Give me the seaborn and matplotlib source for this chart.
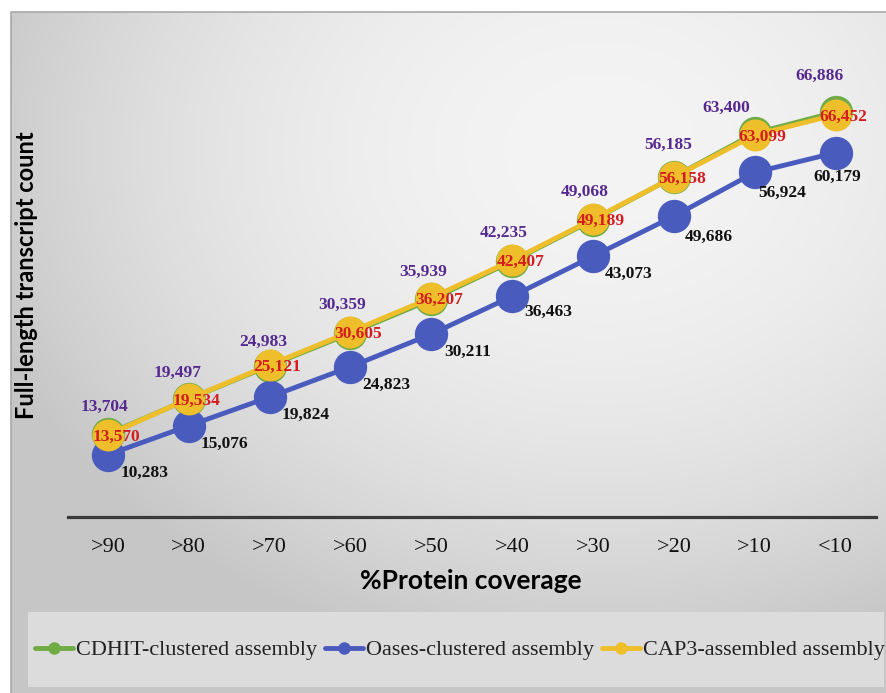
import numpy as np
import pandas as pd
import seaborn as sns
import matplotlib.pyplot as plt
from matplotlib.lines import Line2D
from matplotlib.patches import Rectangle

# Protein coverage bins and full-length transcript counts per assembly
coverage = [">90", ">80", ">70", ">60", ">50", ">40", ">30", ">20", ">10", "<10"]
cdhit = [13704, 19497, 24983, 30359, 35939, 42235, 49068, 56185, 63400, 66886]
oases = [10283, 15076, 19824, 24823, 30211, 36463, 43073, 49686, 56924, 60179]
cap3 = [13570, 19534, 25121, 30605, 36207, 42407, 49189, 56158, 63099, 66452]
series_names = ["CDHIT-clustered assembly", "Oases-clustered assembly",
                "CAP3-assembled assembly"]

GREEN, BLUE, YELLOW = "#6fac46", "#4a5bbe", "#efbf2b"
PURPLE, RED, BLACK = "#55298f", "#d41c1f", "#111111"

sns.set_theme(style="white")
plt.rcParams["font.family"] = ["Liberation Serif", "DejaVu Sans"]

W, H = 887, 693
fig = plt.figure(figsize=(W / 100, H / 100), dpi=100)

# Soft grey radial backdrop with a flat legend panel
bg = fig.add_axes([0, 0, 1, 1], zorder=-10)
yy, xx = np.mgrid[0:H, 0:W]
d2 = ((xx - 600) / 650) ** 2 + ((yy - 150) / 520) ** 2
val = 244 - 46 * np.clip(d2, 0, 1)
val[(xx < 11) | (yy < 12)] = 255
bg.imshow(np.dstack([val / 255] * 3), extent=(0, W, H, 0), aspect="auto",
          interpolation="bilinear")
bg.plot([11, 11, W], [H, 12, 12], color="#a8a8a8", lw=1.2)
bg.add_patch(Rectangle((28, 612), 856, 75, facecolor="#dcdcdc", edgecolor="none"))
bg.set_xlim(0, W)
bg.set_ylim(H, 0)
bg.axis("off")

ax = fig.add_axes([67.5 / W, (H - 517) / H, (876 - 67.5) / W, (517 - 63) / H])
ax.set_facecolor("none")

df = pd.DataFrame({
    "coverage": coverage * 3,
    "count": cdhit + oases + cap3,
    "assembly": [series_names[0]] * 10 + [series_names[1]] * 10 + [series_names[2]] * 10,
})

styles = [(series_names[0], GREEN, 24), (series_names[1], BLUE, 24),
          (series_names[2], YELLOW, 23)]
for name, color, ms in styles:
    n_before = len(ax.lines)
    sns.lineplot(data=df[df["assembly"] == name], x="coverage", y="count",
                 color=color, lw=3.5, marker="o", sort=False, ax=ax, legend=False)
    for ln in ax.lines[n_before:]:
        ln.set_markersize(ms)
        ln.set_markeredgewidth(0)
        ln.set_markerfacecolor(color)

# Value labels
purple_off = [(-3, 27), (-11, 26), (-6, 24), (-8, 28), (-8, 28), (-8, 28),
              (-8, 28), (-6, 32), (-28, 25), (-16, 36)]
black_off = [(37, -18), (36, -18), (36, -18), (36, -18), (36, -18), (36, -16),
             (36, -18), (35, -21), (27, -20), (2, -24)]
label_kw = dict(textcoords="offset pixels", ha="center", va="center",
                fontsize=12.5, fontweight="bold")
for i, v in enumerate(cdhit):
    ax.annotate(f"{v:,}", (i, v), xytext=purple_off[i], color=PURPLE, **label_kw)
for i, v in enumerate(cap3):
    ax.annotate(f"{v:,}", (i, v), xytext=(8, -2), color=RED, **label_kw)
for i, v in enumerate(oases):
    ax.annotate(f"{v:,}", (i, v), xytext=black_off[i], color=BLACK, **label_kw)

ax.set_xlim(-0.5, 9.5)
ax.set_ylim(0, 75000)
ax.set_yticks([])
ax.set_xlabel("")
ax.set_ylabel("")
for s in ["top", "right", "left"]:
    ax.spines[s].set_visible(False)
ax.spines["bottom"].set_color("#3a3a3a")
ax.spines["bottom"].set_linewidth(2.3)
ax.tick_params(axis="x", length=0, pad=15, labelsize=16, labelcolor="#111111")

fig.text(471 / W, 1 - 581 / H, "%Protein coverage", ha="center", va="center",
         fontsize=19, fontweight="bold", family=["Lato", "DejaVu Sans"],
         color="#000000")
fig.text(27 / W, 1 - 275 / H, "Full-length transcript count", ha="center",
         va="center", rotation=90, fontsize=17, fontweight="bold",
         family=["Lato", "DejaVu Sans"], color="#000000")

handles = [Line2D([], [], color=c, lw=3.5, marker="o", ms=9, markeredgewidth=0)
           for _, c, _ in styles]
fig.legend(handles, series_names, loc="center", bbox_to_anchor=(460 / W, 1 - 650 / H),
           ncol=3, frameon=False, fontsize=16, handlelength=1.7,
           handletextpad=0.15, columnspacing=0.35, labelcolor="#222222",
           borderaxespad=0, borderpad=0)

fig.savefig("out.png", dpi=100)
